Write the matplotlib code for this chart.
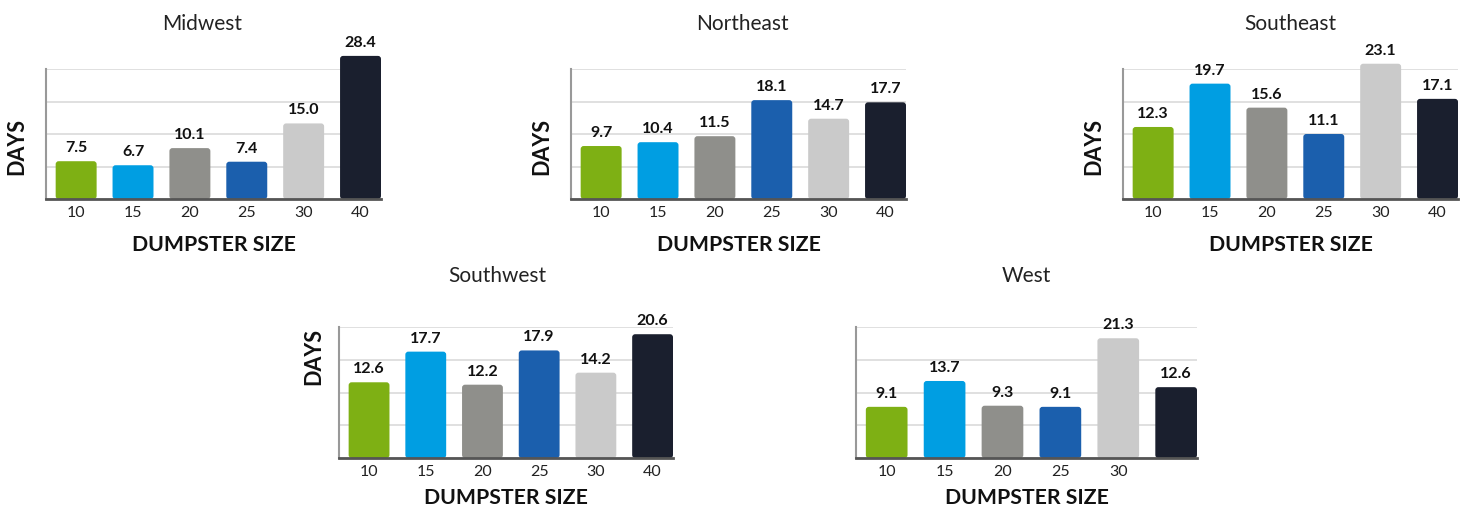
import matplotlib
matplotlib.use("Agg")
import matplotlib.pyplot as plt
from matplotlib.patches import FancyBboxPatch

plt.rcParams['font.family'] = ['Lato', 'DejaVu Sans']

sizes = ["10", "15", "20", "25", "30", "40"]
regions = ["Midwest", "Northeast", "Southeast", "Southwest", "West"]
midwest = [7.5, 6.7, 10.1, 7.4, 15.0, 28.4]
northeast = [9.7, 10.4, 11.5, 18.1, 14.7, 17.7]
southeast = [12.3, 19.7, 15.6, 11.1, 23.1, 17.1]
southwest = [12.6, 17.7, 12.2, 17.9, 14.2, 20.6]
west = [9.1, 13.7, 9.3, 9.1, 21.3, 12.6]
values = [midwest, northeast, southeast, southwest, west]
tick_labels = [sizes, sizes, sizes, sizes, ["10", "15", "20", "25", "30", ""]]
ylabels = ["DAYS", "DAYS", "DAYS", "DAYS", ""]
xlabel = "DUMPSTER SIZE"

colors = ["#7eb014", "#009ee2", "#8f8f8b", "#1b5fad", "#cacaca", "#1a1f2e"]

W, H = 1468, 510
# axes boxes in pixels: left, top, right, bottom
boxes = [
    (46, 70, 381, 200),
    (571, 70, 906, 200),
    (1123, 70, 1458, 200),
    (339, 328, 673, 459),
    (856, 328, 1197, 459),
]
ytops = [25.8, 23.8, 22.2, 21.8, 23.3]
title_x = [0.466, 0.513, 0.50, 0.473, 0.50]
ylabel_pos = [(-0.057, 0.415), (-0.057, 0.415), (-0.057, 0.415), (-0.045, 0.786), (-0.05, 0.5)]
xlabel_pad = [11, 11, 11, 6.5, 6.5]

fig = plt.figure(figsize=(W / 100, H / 100), dpi=100)

for i, (name, vals) in enumerate(zip(regions, values)):
    l, t, r, b = boxes[i]
    ax = fig.add_axes([l / W, (H - b) / H, (r - l) / W, (b - t) / H])
    xs = list(range(len(vals)))
    bars = ax.bar(xs, vals, width=0.72, color=colors, zorder=2)
    xlim = (-0.53, len(vals) - 1 + 0.36)
    ax.set_xlim(*xlim)
    ytop = ytops[i]
    ax.set_ylim(0, ytop)
    # rounded corners
    px_w = r - l
    px_h = b - t
    x_per_px = (xlim[1] - xlim[0]) / px_w
    y_per_px = ytop / px_h
    for rect in bars:
        rect.set_visible(False)
        fb = FancyBboxPatch((rect.get_x(), 0), rect.get_width(), rect.get_height(),
                            boxstyle="round,pad=0,rounding_size=%f" % (3 * x_per_px),
                            mutation_aspect=y_per_px / x_per_px,
                            facecolor=rect.get_facecolor(), edgecolor='none',
                            zorder=2, clip_on=False)
        ax.add_patch(fb)
    for x, v in zip(xs, vals):
        ax.annotate(f"{v:.1f}", (x, v), xytext=(0, 5), textcoords="offset points",
                    ha="center", va="bottom", fontsize=11.5, fontweight="bold",
                    color="#111111", annotation_clip=False)
    ax.set_yticks([ytop * k / 4 for k in range(5)])
    ax.set_yticklabels([])
    ax.tick_params(axis='y', length=0)
    ax.grid(axis='y', color="#dddddd", linewidth=1.3, zorder=0)
    ax.set_axisbelow(True)
    ax.set_xticks(xs)
    ax.set_xticklabels(tick_labels[i], fontsize=11.5, color="#222222")
    ax.tick_params(axis='x', length=0, pad=4)
    for s in ["top", "right"]:
        ax.spines[s].set_visible(False)
    ax.spines["left"].set_color("#999999")
    ax.spines["left"].set_linewidth(1.5)
    ax.spines["bottom"].set_color("#555555")
    ax.spines["bottom"].set_linewidth(2)
    ax.spines["bottom"].set_zorder(3)
    ax.set_xlabel(xlabel, fontsize=15.3, fontweight="bold", color="#111111",
                  labelpad=xlabel_pad[i])
    ax.set_ylabel(ylabels[i], fontsize=15.5, fontweight="bold", color="#111111")
    ax.yaxis.set_label_coords(*ylabel_pos[i])
    ax.set_title(name, fontsize=15, color="#222222", x=title_x[i], pad=29 if i < 3 else 33)

fig.savefig("out.png", dpi=100)
